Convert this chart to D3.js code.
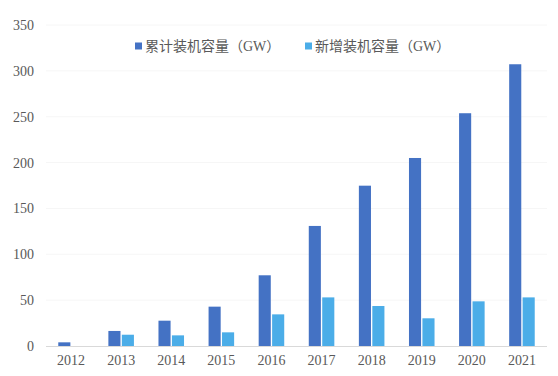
<!DOCTYPE html>
<html>
<head>
<meta charset="utf-8">
<script src="https://cdn.jsdelivr.net/npm/d3@7"></script>
<style>
  body { margin: 0; background: #fff; }
  text { font-family: "Liberation Serif", "Noto Sans CJK SC", serif; fill: #595959; }
</style>
</head>
<body>
<div id="chart"></div>
<script>
// data
let years = ["2012", "2013", "2014", "2015", "2016", "2017", "2018", "2019", "2020", "2021"];
let cumulative = [4, 16.4, 27.6, 42.9, 77.1, 130.9, 174.8, 205, 253.8, 307.2];
let added = [0, 12.3, 11.6, 14.9, 34.5, 53, 43.6, 30.2, 48.7, 53];
let seriesNames = ["累计装机容量（GW）", "新增装机容量（GW）"];
let yTicks = [0, 50, 100, 150, 200, 250, 300, 350];

let width = 558, height = 376;
let margin = {top: 25, right: 11, bottom: 30, left: 46};
let colors = ["#4472C4", "#4BADE8"];

let svg = d3.select("#chart").append("svg")
    .attr("width", width)
    .attr("height", height);

let xScale = d3.scaleBand()
    .domain(years)
    .range([margin.left, width - margin.right])
    .paddingInner(0.49)
    .paddingOuter(0.245);

let inner = d3.scaleBand()
    .domain([0, 1])
    .range([0, xScale.bandwidth()])
    .paddingInner(0.1);

let yScale = d3.scaleLinear()
    .domain([0, 350])
    .range([height - margin.bottom, margin.top]);

// faint gridlines
svg.append("g")
    .selectAll("line")
    .data(yTicks.slice(1))
    .enter().append("line")
    .attr("x1", margin.left)
    .attr("x2", width - margin.right)
    .attr("y1", d => yScale(d))
    .attr("y2", d => yScale(d))
    .style("stroke", "#f6f6f6")
    .style("stroke-width", 1);

// y axis labels only
let yAxis = d3.axisLeft(yScale).tickValues(yTicks).tickSize(0).tickPadding(12);
let yAx = svg.append("g")
    .attr("transform", "translate(" + margin.left + ",0)")
    .call(yAxis);
yAx.select(".domain").remove();
yAx.selectAll("text").style("font-size", "14px").style("fill", "#595959");

// bars
let rows = years.map((y, i) => ({year: y, vals: [cumulative[i], added[i]]}));
let groups = svg.append("g").selectAll("g")
    .data(rows)
    .enter().append("g")
    .attr("transform", d => "translate(" + xScale(d.year) + ",0)");

groups.selectAll("rect")
    .data(d => d.vals.map((v, k) => ({k: k, v: v})))
    .enter().append("rect")
    .attr("x", d => inner(d.k))
    .attr("width", inner.bandwidth())
    .attr("y", d => yScale(d.v))
    .attr("height", d => yScale(0) - yScale(d.v))
    .style("fill", d => colors[d.k]);

// x axis
let xAxis = d3.axisBottom(xScale).tickSize(0).tickPadding(9);
let xAx = svg.append("g")
    .attr("transform", "translate(0," + yScale(0) + ")")
    .call(xAxis);
xAx.select(".domain")
    .attr("d", "M" + margin.left + ",0.5H" + (width - margin.right))
    .style("stroke", "#d9d9d9");
xAx.selectAll("text").style("font-size", "14px").style("fill", "#595959");

// legend
let legendX = [135, 305];
let legend = svg.append("g").selectAll("g")
    .data(seriesNames)
    .enter().append("g")
    .attr("transform", (d, i) => "translate(" + legendX[i] + ",46)");
legend.append("rect")
    .attr("x", 0).attr("y", -3.5)
    .attr("width", 7).attr("height", 7)
    .style("fill", (d, i) => colors[i]);
legend.append("text")
    .attr("x", 10)
    .attr("dy", "0.35em")
    .style("font-size", "14px")
    .text(d => d);
</script>
</body>
</html>
